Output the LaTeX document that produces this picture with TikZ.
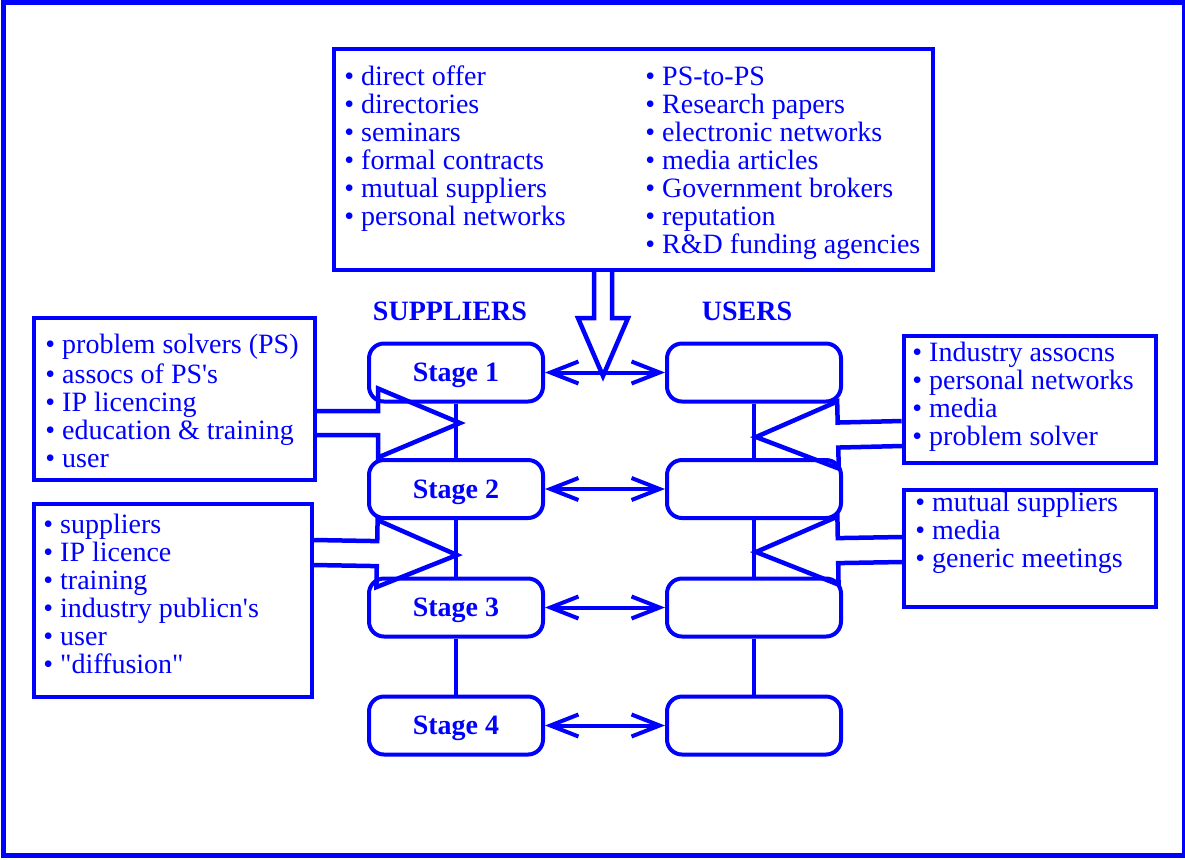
\documentclass[tikz,border=0pt]{standalone}
\usepackage{fontspec}
\setmainfont{Liberation Serif}
\usetikzlibrary{positioning}
\usetikzlibrary{arrows.meta}
\usetikzlibrary{calc}

% hollow block arrow: start, tip, shaft half width, head half width, head length
\newcommand{\hollowarrow}[5]{%
  \coordinate (hbase) at ($(#2)!#5!(#1)$);
  \draw[block] ($(#1)!#3!90:(#2)$) -- ($(hbase)!#3!-90:(#1)$) -- ($(hbase)!#4!-90:(#1)$) -- (#2)
    -- ($(hbase)!#4!90:(#1)$) -- ($(hbase)!#3!90:(#1)$) -- ($(#1)!#3!-90:(#2)$);
}

\begin{document}
\begin{tikzpicture}[
  x=0.5pt, y=-0.5pt,
  color=blue,
  frame/.style={line width=2.5pt},
  listbox/.style={draw, line width=2pt, inner sep=0pt, anchor=north west},
  listtext/.style={font=\fontsize{14pt}{14pt}\selectfont, align=left, inner sep=0pt, anchor=north west},
  stagebox/.style={draw, rounded corners=7.5pt, line width=2pt, minimum width=87pt, minimum height=29pt, inner sep=0pt, text depth=0pt, font=\fontsize{14pt}{14pt}\selectfont\bfseries},
  sidelabel/.style={font=\fontsize{14pt}{14pt}\selectfont\bfseries, anchor=base, inner sep=0pt},
  link/.style={line width=2pt, {Straight Barb[length=14pt,width=11pt]}-{Straight Barb[length=14pt,width=11pt]}},
  rung/.style={line width=1.75pt},
  block/.style={line width=2.25pt, line join=miter}
]
\useasboundingbox (0,0) rectangle (1185,859);
\draw[frame] (3,2) rectangle (1184.5,855.5);

% information boxes
\node[listbox, minimum width=299.5pt, minimum height=110.5pt] (topbox) at (332,47) {};
\node[listbox, minimum width=140.5pt, minimum height=81pt] (lbox1) at (32,316) {};
\node[listbox, minimum width=139pt, minimum height=96.5pt] (lbox2) at (32,502) {};
\node[listbox, minimum width=126pt, minimum height=63.5pt] (rbox1) at (902,334) {};
\node[listbox, minimum width=126pt, minimum height=58.5pt] (rbox2) at (902,488) {};

\node[listtext] (toptxtL) at (344,65.4) {\strut\textbullet\ direct offer\\
  \textbullet\ directories\\
  \textbullet\ seminars\\
  \textbullet\ formal contracts\\
  \textbullet\ mutual suppliers\\
  \textbullet\ personal networks};
\node[listtext] (toptxtR) at (645,65.4) {\strut\textbullet\ PS-to-PS\\
  \textbullet\ Research papers\\
  \textbullet\ electronic networks\\
  \textbullet\ media articles\\
  \textbullet\ Government brokers\\
  \textbullet\ reputation\\
  \textbullet\ R\&D funding agencies};
\node[listtext] (ltxt1) at (45,333.4) {\strut\textbullet\ problem solvers (PS)\\
  \textbullet\ assocs of PS\textquotesingle s\\
  \textbullet\ IP licencing\\
  \textbullet\ education \& training\\
  \textbullet\ user};
\node[listtext] (ltxt2) at (43,513.4) {\strut\textbullet\ suppliers\\
  \textbullet\ IP licence\\
  \textbullet\ training\\
  \textbullet\ industry publicn\textquotesingle s\\
  \textbullet\ user\\
  \textbullet\ \textquotedbl diffusion\textquotedbl};
\node[listtext] (rtxt1) at (912,341.4) {\strut\textbullet\ Industry assocns\\
  \textbullet\ personal networks\\
  \textbullet\ media\\
  \textbullet\ problem solver};
\node[listtext] (rtxt2) at (915,491.4) {\strut\textbullet\ mutual suppliers\\
  \textbullet\ media\\
  \textbullet\ generic meetings};

% column heads
\node[sidelabel] (suplab) at (450,320) {SUPPLIERS};
\node[sidelabel] (uselab) at (747,320) {USERS};

% stages
\node[stagebox] (s1) at (456,372.5) {Stage 1};
\node[stagebox] (s2) at (456,489) {Stage 2};
\node[stagebox] (s3) at (456,607.5) {Stage 3};
\node[stagebox] (s4) at (456,725.5) {Stage 4};
\node[stagebox] (u1) at (754,372.5) {};
\node[stagebox] (u2) at (754,489) {};
\node[stagebox] (u3) at (754,607.5) {};
\node[stagebox] (u4) at (754,725.5) {};

\draw[rung] (s1) -- (s2);
\draw[rung] (s2) -- (s3);
\draw[rung] (s3) -- (s4);
\draw[rung] (u1) -- (u2);
\draw[rung] (u2) -- (u3);
\draw[rung] (u3) -- (u4);

\draw[link] (s1) -- (u1);
\draw[link] (s2) -- (u2);
\draw[link] (s3) -- (u3);
\draw[link] (s4) -- (u4);

% block arrows into the chain
\coordinate (tipT) at (603,376);
\coordinate (fromT) at (tipT |- topbox.south);
\coordinate (tipL1) at (460,423);
\coordinate (fromL1) at (lbox1.east |- tipL1);
\coordinate (tipL2) at (457,555);
\coordinate (fromL2) at ($(lbox2.east)+(0,-48)$);
\coordinate (tipR1) at (756,437);
\coordinate (fromR1) at ($(rbox1.west)+(0,34)$);
\coordinate (tipR2) at (756,552);
\coordinate (fromR2) at ($(rbox2.west)+(0,1)$);

\hollowarrow{fromT}{tipT}{4.5pt}{12.5pt}{29pt}
\hollowarrow{fromL1}{tipL1}{6pt}{17.25pt}{41pt}
\hollowarrow{fromL2}{tipL2}{6.25pt}{16.75pt}{40pt}
\hollowarrow{fromR1}{tipR1}{6.25pt}{16.75pt}{41pt}
\hollowarrow{fromR2}{tipR2}{6.25pt}{17pt}{41pt}

\end{tikzpicture}
\end{document}
